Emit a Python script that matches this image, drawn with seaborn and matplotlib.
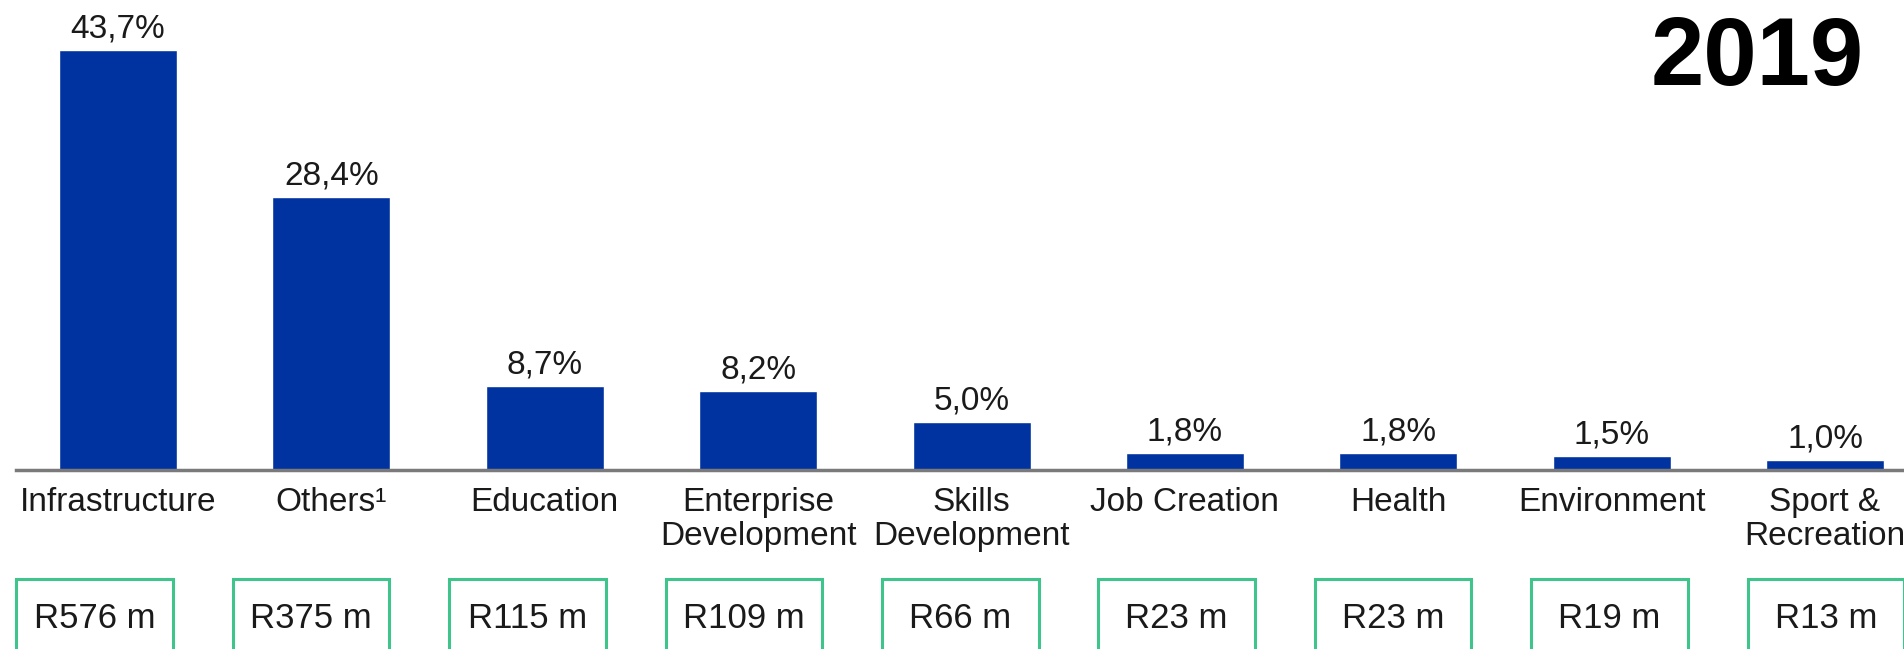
import matplotlib
matplotlib.use("Agg")
import matplotlib.pyplot as plt
import seaborn as sns
import pandas as pd
from matplotlib.patches import Rectangle

categories = ["Infrastructure", "Others\u00b9", "Education", "Enterprise\nDevelopment",
              "Skills\nDevelopment", "Job Creation", "Health", "Environment",
              "Sport &\nRecreation"]
shares = [43.7, 28.4, 8.7, 8.2, 5.0, 1.8, 1.8, 1.5, 1.0]
share_labels = ["43,7%", "28,4%", "8,7%", "8,2%", "5,0%", "1,8%", "1,8%", "1,5%", "1,0%"]
amounts = ["R576 m", "R375 m", "R115 m", "R109 m", "R66 m", "R23 m", "R23 m", "R19 m", "R13 m"]
year = "2019"

sns.set_theme(style="white")
plt.rcParams["font.family"] = ["Liberation Sans", "DejaVu Sans"]

W, H = 1904, 649
fig = plt.figure(figsize=(W / 100, H / 100), dpi=100)

# bar axes: x line at 470 px from top, 1 category = 213.4 px
axis_y = 470
ax = fig.add_axes([16 / W, (H - axis_y) / H, 1 - 16 / W, axis_y / H])
df = pd.DataFrame({"cat": categories, "share": shares})
sns.barplot(data=df, x="cat", y="share", color="#0033A0", saturation=1,
            width=0.553, ax=ax)
ax.set_xlim(-0.478, 8.37)
ax.set_ylim(0, axis_y / 9.62)

for i, (v, lab) in enumerate(zip(shares, share_labels)):
    ax.annotate(lab, (i, v), xytext=(0, 4), textcoords="offset points",
                ha="center", va="bottom", fontsize=24, color="#1a1a1a")

for s in ["top", "left", "right"]:
    ax.spines[s].set_visible(False)
ax.spines["bottom"].set_color("#7a7a7a")
ax.spines["bottom"].set_linewidth(2.5)
ax.set_yticks([])
ax.set_xlabel("")
ax.set_ylabel("")
ax.tick_params(axis="x", length=0, pad=12)
ax.set_xticks(range(len(categories)))
ax.set_xticklabels(categories, fontsize=24, color="#1a1a1a", linespacing=1.15, va="top")

# amount boxes row
box_ax = fig.add_axes([0, 0, 1, 72 / H])
box_ax.set_xlim(-0.4376, 8.361)
box_ax.set_ylim(0, 1)
box_ax.axis("off")
for i, amt in enumerate(amounts):
    box_ax.add_patch(Rectangle((i - 0.362, -0.5), 0.724, 1.47, fill=False,
                               edgecolor="#3fc48c", linewidth=2.2, clip_on=False))
    box_ax.text(i, 0.43, amt, ha="center", va="center", fontsize=25, color="#1a1a1a")

fig.text(1864 / W, 1 - 60 / H, year, ha="right", va="center", fontsize=69,
         fontweight="bold", color="black")

fig.savefig("out.png", dpi=100)
